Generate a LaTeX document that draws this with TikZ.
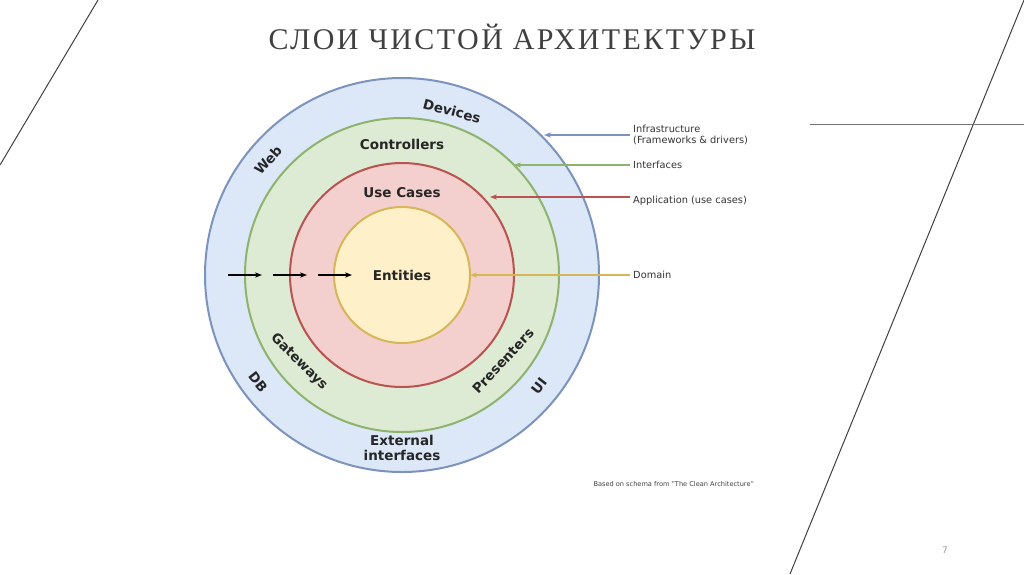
\documentclass[tikz,border=0pt]{standalone}
\usepackage{fontspec}
\setmainfont{DejaVu Sans}
\newfontfamily\titlefont[LetterSpace=8]{Liberation Serif}
\usetikzlibrary{arrows.meta}
\definecolor{bfill}{HTML}{DCE7F8}\definecolor{bdraw}{HTML}{7C93BE}
\definecolor{gfill}{HTML}{DDEBD4}\definecolor{gdraw}{HTML}{8DB36C}
\definecolor{rfill}{HTML}{F3D0CD}\definecolor{rdraw}{HTML}{B9534F}
\definecolor{yfill}{HTML}{FEF1CA}\definecolor{ydraw}{HTML}{D7B658}
\tikzset{lbl/.style={font=\bfseries\fontsize{13.5}{15}\selectfont,text=black!85,inner sep=0pt},
 side/.style={font=\fontsize{9.8}{11}\selectfont,text=black!80,anchor=west,align=left,inner sep=0pt},
 pt/.style={-{Stealth[length=7pt]},line width=1.4pt},
 deco/.style={draw=black!75,line width=1pt}}
\begin{document}
\begin{tikzpicture}[x=1pt,y=-1pt]
\useasboundingbox (0,0) rectangle (1024,574);
\draw[deco] (98,0) -- (0,165);
\draw[deco] (1024,0) -- (790,574);
\draw[draw=black!55,line width=1pt] (810,124) -- (1024,124);
\node[font=\titlefont\fontsize{30}{31}\selectfont,text=black!75] (title) at (512,37) {СЛОИ ЧИСТОЙ АРХИТЕКТУРЫ};
\node[font=\fontsize{9}{10}\selectfont,text=black!40] (num) at (945,550) {7};
\coordinate (c) at (402,275);
\fill[bfill,draw=bdraw,line width=2pt] (c) circle[radius=197];
\fill[gfill,draw=gdraw,line width=2pt] (c) circle[radius=157];
\fill[rfill,draw=rdraw,line width=2pt] (c) circle[radius=112];
\fill[yfill,draw=ydraw,line width=2pt] (c) circle[radius=68];
\node[lbl] (dev) at (452,111) [rotate=-15] {Devices};
\node[lbl] (web) at (268,160) [rotate=48] {Web};
\node[lbl] (ctl) at (402,144) {Controllers};
\node[lbl] (uc) at (402,193) {Use Cases};
\node[lbl] (ent) at (402,275) {Entities};
\node[lbl] (gw) at (299,362) [rotate=-45] {Gateways};
\node[lbl] (pr) at (503,361) [rotate=47] {Presenters};
\node[lbl] (db) at (258,382) [rotate=-52] {DB};
\node[lbl] (ui) at (539,386) [rotate=52] {UI};
\node[lbl,align=center] (ext) at (402,448) {External\\interfaces};
\coordinate (a1) at (228,275);\coordinate (a2) at (262,275);
\coordinate (a3) at (273,275);\coordinate (a4) at (307,275);
\coordinate (a5) at (318,275);\coordinate (a6) at (352,275);
\draw[pt] (a1) -- (a2); \draw[pt] (a3) -- (a4); \draw[pt] (a5) -- (a6);
\node[side] (inf) at (633,135) {Infrastructure\\(Frameworks \& drivers)};
\node[side] (itf) at (633,165) {Interfaces};
\node[side] (app) at (633,201) {Application (use cases)};
\node[side] (dom) at (633,275) {Domain};
\coordinate (e1) at (544,135);\coordinate (e2) at (514,165);
\coordinate (e3) at (490,197);\coordinate (e4) at (470,275);
\coordinate (s1) at (630,135);\coordinate (s2) at (630,165);
\coordinate (s3) at (630,197);\coordinate (s4) at (630,275);
\draw[-{Stealth[length=7pt]},bdraw,line width=1.6pt] (s1) -- (e1);
\draw[-{Stealth[length=7pt]},gdraw,line width=1.6pt] (s2) -- (e2);
\draw[-{Stealth[length=7pt]},rdraw,line width=1.6pt] (s3) -- (e3);
\draw[-{Stealth[length=7pt]},ydraw,line width=1.6pt] (s4) -- (e4);
\node[font=\fontsize{6.6}{7}\selectfont,text=black!75,anchor=west] (note) at (590,484) {Based on schema from "The Clean Architecture"};
\end{tikzpicture}
\end{document}
